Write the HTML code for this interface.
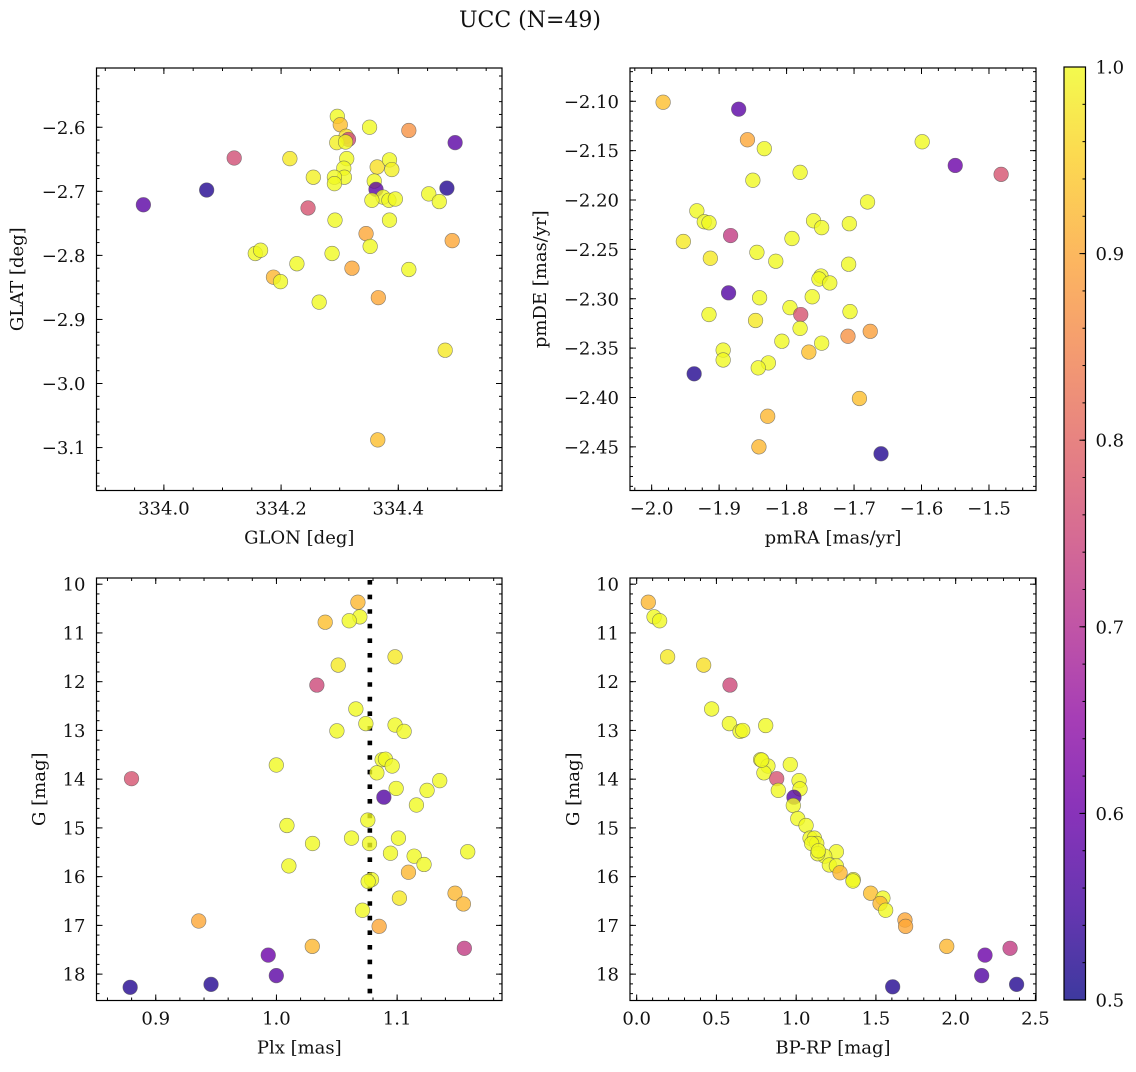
<!DOCTYPE html>
<html><head><meta charset="utf-8"><style>
html,body{margin:0;padding:0;background:#fff;}
svg text{font-family:"DejaVu Serif","Liberation Serif",serif;fill:#111;}
</style></head><body>
<svg id="fig" width="1136" height="1067" viewBox="0 0 1136 1067" xmlns="http://www.w3.org/2000/svg">
<defs>
<linearGradient id="plasma" x1="0" y1="1" x2="0" y2="0">
<stop offset="0" stop-color="#cc4778"/>
</linearGradient>
</defs>
<text x="530" y="27" font-size="22" text-anchor="middle">UCC (N=49)</text>
</svg>
<script>
// ---------- data ----------
const glon = [333.965,334.073,334.120,334.215,334.296,334.301,334.311,334.315,334.295,334.310,334.351,334.418,334.497,334.312,334.307,334.308,334.291,334.291,334.255,334.364,334.385,334.389,334.359,334.362,334.374,334.355,334.384,334.395,334.452,334.470,334.483,334.246,334.292,334.385,334.345,334.352,334.492,334.156,334.165,334.287,334.227,334.321,334.418,334.187,334.199,334.265,334.366,334.480,334.365];
const glat = [-2.721,-2.698,-2.648,-2.649,-2.583,-2.596,-2.614,-2.619,-2.624,-2.623,-2.600,-2.605,-2.624,-2.649,-2.664,-2.678,-2.678,-2.688,-2.678,-2.662,-2.651,-2.666,-2.684,-2.697,-2.709,-2.714,-2.714,-2.712,-2.704,-2.716,-2.695,-2.726,-2.745,-2.745,-2.766,-2.786,-2.777,-2.797,-2.792,-2.797,-2.813,-2.820,-2.822,-2.834,-2.841,-2.873,-2.866,-2.948,-3.088];
const probPos = [0.58,0.52,0.76,0.98,1.0,0.93,0.97,0.75,0.99,1.0,1.0,0.87,0.58,1.0,1.0,1.0,1.0,1.0,0.99,0.97,1.0,0.99,1.0,0.58,1.0,1.0,1.0,1.0,1.0,1.0,0.52,0.77,1.0,1.0,0.9,1.0,0.9,1.0,1.0,1.0,1.0,0.9,1.0,0.92,1.0,1.0,0.9,0.98,0.93];

const pmra = [-1.983,-1.871,-1.858,-1.833,-1.599,-1.550,-1.482,-1.780,-1.850,-1.680,-1.933,-1.922,-1.915,-1.760,-1.748,-1.707,-1.883,-1.953,-1.792,-1.844,-1.816,-1.913,-1.708,-1.749,-1.752,-1.736,-1.886,-1.840,-1.762,-1.795,-1.779,-1.915,-1.706,-1.846,-1.780,-1.676,-1.709,-1.748,-1.807,-1.767,-1.894,-1.894,-1.827,-1.842,-1.937,-1.692,-1.828,-1.841,-1.660];
const pmde = [-2.101,-2.108,-2.139,-2.148,-2.141,-2.165,-2.174,-2.172,-2.180,-2.202,-2.211,-2.222,-2.223,-2.221,-2.228,-2.224,-2.236,-2.242,-2.239,-2.253,-2.262,-2.259,-2.265,-2.277,-2.280,-2.284,-2.294,-2.299,-2.298,-2.309,-2.316,-2.316,-2.313,-2.322,-2.330,-2.333,-2.338,-2.345,-2.343,-2.354,-2.352,-2.362,-2.365,-2.370,-2.376,-2.401,-2.419,-2.450,-2.457];
const probPm = [0.93,0.58,0.9,1.0,1.0,0.6,0.77,1.0,1.0,1.0,1.0,1.0,1.0,1.0,1.0,1.0,0.73,0.98,1.0,1.0,1.0,0.98,1.0,1.0,1.0,1.0,0.57,1.0,1.0,1.0,0.77,1.0,1.0,0.98,1.0,0.89,0.87,1.0,1.0,0.93,1.0,1.0,1.0,1.0,0.52,0.93,0.92,0.92,0.52];

const plx = [1.0675,1.0691,1.0603,1.0404,1.0983,1.0512,1.0335,1.0658,1.0741,1.0983,1.1058,1.0501,0.9999,1.0876,1.0903,1.0959,1.0832,0.8799,1.1353,1.0992,1.1248,1.0890,1.1160,1.0757,1.0087,1.0622,1.1011,1.0299,1.0771,1.1585,1.0945,1.1141,1.1223,1.0103,1.1094,1.0788,1.0760,1.1480,1.1549,1.1019,1.0713,0.9356,1.0851,1.0297,1.1557,0.9932,0.9999,0.9458,0.8788];
const gPlx = [10.37,10.67,10.75,10.78,11.49,11.66,12.07,12.56,12.86,12.89,13.02,13.01,13.71,13.60,13.59,13.73,13.87,13.99,14.03,14.19,14.23,14.37,14.53,14.84,14.95,15.21,15.21,15.32,15.32,15.49,15.52,15.58,15.75,15.78,15.91,16.06,16.10,16.34,16.56,16.44,16.69,16.91,17.02,17.43,17.47,17.61,18.03,18.21,18.27];
const probPlx = [0.92,1.0,1.0,0.93,0.98,0.98,0.75,1.0,1.0,1.0,1.0,1.0,1.0,1.0,1.0,1.0,1.0,0.77,1.0,1.0,1.0,0.57,1.0,1.0,1.0,1.0,1.0,1.0,1.0,1.0,1.0,1.0,1.0,1.0,0.92,1.0,1.0,0.92,0.92,0.98,1.0,0.9,0.9,0.92,0.73,0.6,0.58,0.52,0.52];
const plxLine = [1.0774];

const bprp = [0.073,0.109,0.144,0.194,0.420,0.585,0.470,0.581,0.648,0.665,0.809,0.777,0.823,0.798,0.963,0.878,1.018,1.024,0.888,0.986,0.982,1.010,1.062,1.087,1.114,1.129,1.097,1.252,1.179,1.135,1.208,1.252,1.275,1.358,1.356,1.467,1.544,1.526,1.561,1.682,1.686,1.944,2.341,2.184,2.163,2.382,1.605,1.139,0.784];
const gCmd = [10.37,10.67,10.75,11.49,11.66,12.07,12.56,12.86,13.02,13.00,12.90,13.60,13.73,13.87,13.70,13.99,14.03,14.20,14.23,14.37,14.54,14.81,14.95,15.21,15.21,15.32,15.32,15.49,15.58,15.53,15.76,15.78,15.92,16.06,16.09,16.34,16.44,16.55,16.69,16.89,17.02,17.43,17.47,17.61,18.03,18.21,18.26,15.47,13.61];
const probCmd = [0.92,1.0,1.0,0.98,0.97,0.75,1.0,1.0,1.0,1.0,1.0,1.0,1.0,1.0,1.0,0.77,1.0,1.0,1.0,0.57,1.0,1.0,1.0,1.0,1.0,1.0,1.0,1.0,1.0,1.0,1.0,1.0,0.92,1.0,1.0,0.93,1.0,0.92,1.0,0.9,0.9,0.92,0.73,0.6,0.57,0.52,0.52,1.0,1.0];

const cbTicks = [0.5,0.6,0.7,0.8,0.9,1.0];

// ---------- helpers ----------
const NS = "http://www.w3.org/2000/svg";
const svg = document.getElementById('fig');
function mk(tag, attrs, parent){const e=document.createElementNS(NS,tag);for(const k in attrs)e.setAttribute(k,attrs[k]);(parent||svg).appendChild(e);return e;}
const stops=[[0,[13,8,135]],[0.1,[65,4,157]],[0.2,[106,0,168]],[0.3,[143,13,164]],[0.4,[177,42,144]],[0.5,[204,71,120]],[0.6,[225,100,98]],[0.7,[242,132,75]],[0.8,[252,166,54]],[0.9,[252,206,37]],[1.0,[240,249,33]]];
function plasma(t){t=Math.max(0,Math.min(1,t));for(let i=1;i<stops.length;i++){if(t<=stops[i][0]){const a=stops[i-1],b=stops[i];const f=(t-a[0])/(b[0]-a[0]);const c=a[1].map((v,j)=>Math.round(v+(b[1][j]-v)*f));return `rgb(${c[0]},${c[1]},${c[2]})`;}}return 'rgb(240,249,33)';}
function cnorm(p){return (p-0.5)/0.5;}
const grad=document.getElementById('plasma');grad.innerHTML='';
stops.forEach(s=>{mk('stop',{offset:s[0],'stop-color':plasma(s[0])},grad);});

function fmt(v,d){const s=Math.abs(v).toFixed(d);return (v<0?'\u2212':'')+s;}
const FS=18;

function panel(cfg){
  const g=mk('g',{});
  
  
  const {x0,y0,w,h,xd,yd}=cfg;
  const sx=v=>x0+(v-xd[0])/(xd[1]-xd[0])*w;
  const sy=v=>y0+(v-yd[0])/(yd[1]-yd[0])*h;
  const tg=mk('g',{stroke:'#000','stroke-width':1},g);
  function ticks(lo,hi,step){const a=[];const n0=Math.ceil(Math.min(lo,hi)/step-1e-6),n1=Math.floor(Math.max(lo,hi)/step+1e-6);for(let n=n0;n<=n1;n++)a.push(+(n*step).toFixed(6));return a;}
  ticks(xd[0],xd[1],cfg.xminor).forEach(v=>{const X=sx(v);mk('line',{x1:X,x2:X,y1:y0+h,y2:y0+h-3},tg);mk('line',{x1:X,x2:X,y1:y0,y2:y0+3},tg);});
  ticks(yd[0],yd[1],cfg.yminor).forEach(v=>{const Y=sy(v);mk('line',{x1:x0,x2:x0+3,y1:Y,y2:Y},tg);mk('line',{x1:x0+w,x2:x0+w-3,y1:Y,y2:Y},tg);});
  cfg.xmajor.forEach(v=>{const X=sx(v);mk('line',{x1:X,x2:X,y1:y0+h,y2:y0+h-6},tg);mk('line',{x1:X,x2:X,y1:y0,y2:y0+6},tg);
    const t=mk('text',{x:X,y:y0+h+24,'font-size':FS,'text-anchor':'middle'},g);t.textContent=fmt(v,cfg.xdec);
    });
  cfg.ymajor.forEach(v=>{const Y=sy(v);mk('line',{x1:x0,x2:x0+6,y1:Y,y2:Y},tg);mk('line',{x1:x0+w,x2:x0+w-6,y1:Y,y2:Y},tg);
    const t=mk('text',{x:x0-11,y:Y+6.5,'font-size':FS,'text-anchor':'end'},g);t.textContent=fmt(v,cfg.ydec);
    });
  const cid='clip'+cfg.name;
  const cp=mk('clipPath',{id:cid},g);mk('rect',{x:x0,y:y0,width:w,height:h},cp);
  const pg=mk('g',{'clip-path':`url(#${cid})`},g);
  if(cfg.vline){cfg.vline.forEach(v=>{const l=mk('line',{x1:sx(v),x2:sx(v),y1:y0+2,y2:y0+h,stroke:'#000','stroke-width':4.6,'stroke-dasharray':'4.6 10'},pg);
    });}
  cfg.xs.forEach((xv,i)=>{const c=mk('circle',{cx:sx(xv),cy:sy(cfg.ys[i]),r:7.3,fill:plasma(cnorm(cfg.ps[i])),'fill-opacity':0.8,stroke:'#555','stroke-opacity':0.7,'stroke-width':0.6},pg);
    });
  mk('rect',{x:x0,y:y0,width:w,height:h,fill:'none',stroke:'#000','stroke-width':1.2},g);
  const xl=mk('text',{x:x0+w/2,y:y0+h+53,'font-size':FS,'text-anchor':'middle'},g);xl.textContent=cfg.xlabel;
  
  const yx=cfg.ylx, yy=y0+h/2;
  const yl=mk('text',{x:yx,y:yy,'font-size':FS,'text-anchor':'middle',transform:`rotate(-90 ${yx} ${yy})`},g);yl.textContent=cfg.ylabel;
  
}

panel({name:'glon-glat-panel',x0:96.5,y0:68,w:405.5,h:422.5,xd:[333.885,334.577],yd:[-2.5075,-3.167],
  xmajor:[334.0,334.2,334.4],xminor:0.05,xdec:1,ymajor:[-2.6,-2.7,-2.8,-2.9,-3.0,-3.1],yminor:0.02,ydec:1,
  xs:glon,ys:glat,ps:probPos,xlabel:'GLON [deg]',ylabel:'GLAT [deg]',ylx:23});
panel({name:'pm-panel',x0:630,y0:68,w:406,h:422.5,xd:[-2.0321,-1.4303],yd:[-2.0663,-2.4942],
  xmajor:[-2.0,-1.9,-1.8,-1.7,-1.6,-1.5],xminor:0.025,xdec:1,ymajor:[-2.10,-2.15,-2.20,-2.25,-2.30,-2.35,-2.40,-2.45],yminor:0.01,ydec:2,
  xs:pmra,ys:pmde,ps:probPm,xlabel:'pmRA [mas/yr]',ylabel:'pmDE [mas/yr]',ylx:546});
panel({name:'plx-g-panel',x0:96.5,y0:578,w:405.5,h:422.5,xd:[0.8509,1.1869],yd:[9.873,18.541],
  xmajor:[0.9,1.0,1.1],xminor:0.02,xdec:1,ymajor:[10,11,12,13,14,15,16,17,18],yminor:0.2,ydec:0,
  xs:plx,ys:gPlx,ps:probPlx,vline:plxLine,xlabel:'Plx [mas]',ylabel:'G [mag]',ylx:45});
panel({name:'cmd-panel',x0:630,y0:578,w:406,h:422.5,xd:[-0.0418,2.5036],yd:[9.873,18.541],
  xmajor:[0.0,0.5,1.0,1.5,2.0,2.5],xminor:0.1,xdec:1,ymajor:[10,11,12,13,14,15,16,17,18],yminor:0.2,ydec:0,
  xs:bprp,ys:gCmd,ps:probCmd,xlabel:'BP-RP [mag]',ylabel:'G [mag]',ylx:579});

const cb=mk('g',{});


const cx0=1064,cy0=67,cw=21.5,ch=933;
mk('rect',{x:cx0,y:cy0,width:cw,height:ch,fill:'url(#plasma)','fill-opacity':0.8},cb);
const cs=v=>cy0+(1-(v-0.5)/0.5)*ch;
for(let k=0;k<=25;k++){const v=0.5+k*0.02;const Y=cs(v);mk('line',{x1:cx0+cw,x2:cx0+cw-3,y1:Y,y2:Y,stroke:'#000','stroke-width':1},cb);}
cbTicks.forEach(v=>{const Y=cs(v);mk('line',{x1:cx0+cw,x2:cx0+cw-6,y1:Y,y2:Y,stroke:'#000','stroke-width':1},cb);
  const t=mk('text',{x:cx0+cw+10,y:Y+6.5,'font-size':FS},cb);t.textContent=v.toFixed(1);
  });
mk('rect',{x:cx0,y:cy0,width:cw,height:ch,fill:'none',stroke:'#000','stroke-width':1.2},cb);
</script>
</body></html>
